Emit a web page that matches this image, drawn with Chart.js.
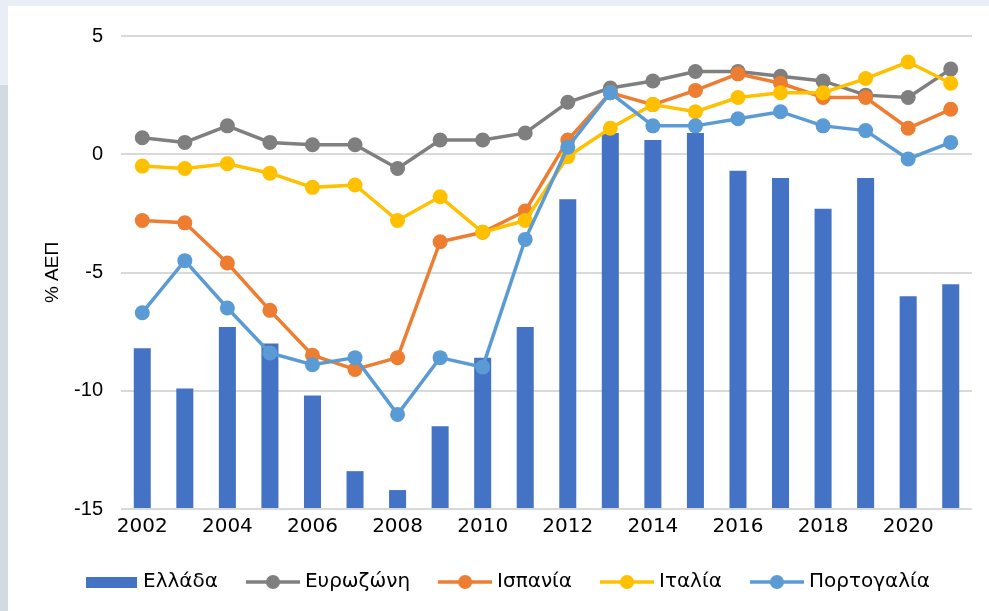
<!DOCTYPE html>
<html>
<head>
<meta charset="utf-8">
<script src="https://cdn.jsdelivr.net/npm/chart.js@4"></script>
<style>
    body { margin: 0; background: #ffffff; }
    .topStrip { position: absolute; left: 0; top: 0; width: 989px; height: 6px; background: #e9eef6; }
    .sideTop { position: absolute; left: 0; top: 0; width: 8px; height: 85px; background: #e9eef6; }
    .sideBottom { position: absolute; left: 0; top: 85px; width: 8px; height: 526px; background: #d3dbe2; }
    .chartBox { position: absolute; left: 8px; top: 6px; width: 981px; height: 605px; }
</style>
</head>
<body>
<div class="topStrip"></div>
<div class="sideTop"></div>
<div class="sideBottom"></div>
<div class="chartBox"><canvas id="deficitChart"></canvas></div>
<script>
// Chart data
const years = ['2002', '2003', '2004', '2005', '2006', '2007', '2008', '2009', '2010', '2011',
               '2012', '2013', '2014', '2015', '2016', '2017', '2018', '2019', '2020', '2021'];
const greece = [-8.2, -9.9, -7.3, -8.0, -10.2, -13.4, -14.2, -11.5, -8.6, -7.3,
                -1.9, 0.9, 0.6, 0.9, -0.7, -1.0, -2.3, -1.0, -6.0, -5.5];
const eurozone = [0.7, 0.5, 1.2, 0.5, 0.4, 0.4, -0.6, 0.6, 0.6, 0.9,
                  2.2, 2.8, 3.1, 3.5, 3.5, 3.3, 3.1, 2.5, 2.4, 3.6];
const spain = [-2.8, -2.9, -4.6, -6.6, -8.5, -9.1, -8.6, -3.7, -3.3, -2.4,
               0.6, 2.6, 2.1, 2.7, 3.4, 3.0, 2.4, 2.4, 1.1, 1.9];
const italy = [-0.5, -0.6, -0.4, -0.8, -1.4, -1.3, -2.8, -1.8, -3.3, -2.8,
               -0.1, 1.1, 2.1, 1.8, 2.4, 2.6, 2.6, 3.2, 3.9, 3.0];
const portugal = [-6.7, -4.5, -6.5, -8.4, -8.9, -8.6, -11.0, -8.6, -9.0, -3.6,
                  0.3, 2.6, 1.2, 1.2, 1.5, 1.8, 1.2, 1.0, -0.2, 0.5];

const chartColors = {
    bar: '#4472c4',
    gray: '#7f7f7f',
    orange: '#ed7d31',
    yellow: '#ffc000',
    blue: '#5b9bd5',
    grid: '#d9d9d9'
};

// Excel-like legend symbols
function lineIcon(color) {
    const c = document.createElement('canvas');
    c.width = 54;
    c.height = 16;
    const g = c.getContext('2d');
    g.strokeStyle = color;
    g.lineWidth = 3.5;
    g.beginPath();
    g.moveTo(0, 8);
    g.lineTo(54, 8);
    g.stroke();
    g.fillStyle = color;
    g.beginPath();
    g.arc(27, 8, 7, 0, Math.PI * 2);
    g.fill();
    return c;
}

function barIcon(color) {
    const c = document.createElement('canvas');
    c.width = 51;
    c.height = 11;
    const g = c.getContext('2d');
    g.fillStyle = color;
    g.fillRect(0, 0, 51, 11);
    return c;
}

function lineSet(label, data, color, order) {
    return {
        type: 'line',
        label: label,
        data: data,
        borderColor: color,
        backgroundColor: color,
        borderWidth: 3.5,
        pointRadius: 7.5,
        pointBorderWidth: 0,
        pointBackgroundColor: color,
        tension: 0,
        order: order,
        legendIcon: lineIcon(color)
    };
}

// move the legend a bit to the right, like the original
const legendShift = {
    id: 'legendShift',
    afterLayout(chart) {
        chart.legend.left += 39;
    }
};

document.addEventListener('DOMContentLoaded', function() {
    const ctx = document.getElementById('deficitChart').getContext('2d');

    new Chart(ctx, {
        type: 'bar',
        data: {
            labels: years,
            datasets: [
                {
                    label: 'Ελλάδα',
                    data: greece,
                    base: -15,  // bars start at the bottom of the axis
                    backgroundColor: chartColors.bar,
                    borderWidth: 0,
                    barPercentage: 0.4,
                    categoryPercentage: 1,
                    order: 10,
                    legendIcon: barIcon(chartColors.bar)
                },
                lineSet('Ευρωζώνη', eurozone, chartColors.gray, 4),
                lineSet('Ισπανία', spain, chartColors.orange, 3),
                lineSet('Ιταλία', italy, chartColors.yellow, 2),
                lineSet('Πορτογαλία', portugal, chartColors.blue, 1)
            ]
        },
        options: {
            responsive: true,
            maintainAspectRatio: false,
            animation: false,
            layout: {
                padding: { top: 29, right: 17, bottom: 9, left: 0 }
            },
            scales: {
                x: {
                    grid: { display: false, drawTicks: false },
                    border: { display: false },
                    ticks: {
                        autoSkip: false,
                        maxRotation: 0,
                        padding: 6,
                        color: '#000',
                        font: { family: 'DejaVu Sans', size: 20 },
                        callback: function(value, index) {
                            return index % 2 === 0 ? this.getLabelForValue(value) : '';
                        }
                    },
                    afterFit: function(scale) {
                        scale.height = 30;
                    }
                },
                y: {
                    min: -15,
                    max: 5,
                    grid: { color: chartColors.grid, lineWidth: 2, drawTicks: false },
                    border: { display: false },
                    ticks: {
                        stepSize: 5,
                        padding: 18,
                        color: '#000',
                        font: { family: 'Liberation Sans', size: 20 }
                    },
                    title: {
                        display: true,
                        text: '% ΑΕΠ',
                        color: '#000',
                        padding: { top: 33, bottom: 0 },
                        font: { family: 'Liberation Sans', size: 19 }
                    },
                    afterFit: function(scale) {
                        scale.width = 113;
                    }
                }
            },
            plugins: {
                tooltip: { enabled: false },
                legend: {
                    position: 'bottom',
                    labels: {
                        usePointStyle: true,
                        pointStyleWidth: 44,
                        padding: 33,
                        color: '#000',
                        font: { family: 'DejaVu Sans', size: 20 },
                        sort: (a, b) => a.datasetIndex - b.datasetIndex,
                        generateLabels: function(chart) {
                            const items = Chart.defaults.plugins.legend.labels.generateLabels(chart);
                            items.forEach(item => {
                                item.pointStyle = chart.data.datasets[item.datasetIndex].legendIcon;
                                item.lineWidth = 0;
                            });
                            return items;
                        }
                    }
                }
            }
        },
        plugins: [legendShift]
    });
});
</script>
</body>
</html>
